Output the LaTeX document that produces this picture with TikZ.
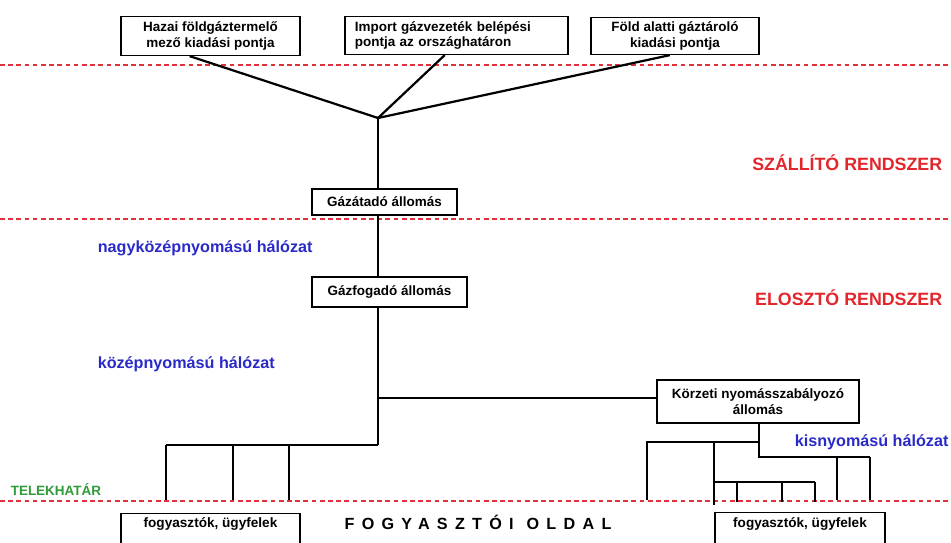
\documentclass[tikz,border=0pt]{standalone}
\usepackage{fontspec}
\setmainfont{Liberation Sans}
\newfontfamily\widefont[LetterSpace=45]{Liberation Sans}
\usetikzlibrary{positioning, calc}
\definecolor{cred}{HTML}{E3262B}
\definecolor{cblue}{HTML}{2A2AC8}
\definecolor{cgreen}{HTML}{2F9A3A}
\definecolor{cdash}{HTML}{E0303A}
\tikzset{
  every picture/.style={font=\bfseries, line width=1.5pt},
  box/.style={draw, fill=white, line width=1.1pt, align=center, inner sep=2pt, font=\bfseries\fontsize{11.5}{13.6}\selectfont},
  pipe/.style={draw, line width=1.9pt},
  limit/.style={draw=cdash, line width=0.9pt, dash pattern=on 4pt off 3pt},
  sysname/.style={text=cred, font=\bfseries\fontsize{15.2}{18}\selectfont, anchor=east},
  netname/.style={text=cblue, font=\bfseries\fontsize{13.8}{16}\selectfont, anchor=west},
}
\begin{document}
\begin{tikzpicture}[x=0.03cm, y=-0.03cm]
  \clip (0,0) rectangle (951,543);
  % hatarvonalak
  \foreach \y in {65,219,501} \draw[limit] (0,\y) -- (951,\y);
  % betaplalasi pontok
  \node[box, minimum width=5.37cm, minimum height=1.17cm] (hazai) at (210.5,36) {Hazai földgáztermelő\\mező kiadási pontja};
  \node[box, minimum width=6.69cm, minimum height=1.14cm, text width=6.1cm, align=left] (import) at (456.5,35.5) {Import gázvezeték belépési\\pontja az országhatáron};
  \node[box, minimum width=5.04cm, minimum height=1.11cm] (tarolo) at (675,36) {Föld alatti gáztároló\\kiadási pontja};
  \coordinate (jn) at (378,118);
  \draw[pipe] (hazai.-136) -- (jn);
  \draw[pipe] (import.-121) -- (jn);
  \draw[pipe] (tarolo.-105) -- (jn);
  % allomasok
  \node[box, minimum width=4.35cm, minimum height=0.78cm] (atado) at (384.5,202) {Gázátadó állomás};
  \node[box, minimum width=4.65cm, minimum height=0.9cm] (fogado) at (389.5,292) {Gázfogadó állomás};
  \node[box, minimum width=6.06cm, minimum height=1.29cm] (korzeti) at (758,401.5) {Körzeti nyomásszabályozó\\állomás};
  \draw[pipe] (jn) -- (jn |- atado.north);
  \draw[pipe] (atado.south -| jn) -- (fogado.north -| jn);
  \coordinate (bus) at (378,445);
  \draw[pipe] (fogado.south -| jn) -- (bus);
  \draw[pipe] (korzeti.west |- 0,398) -- (378,398);
  % fogyasztoi agak (bal)
  \draw[pipe] (bus) -- (166,445);
  \foreach \x in {166,233,289} \draw[pipe] (\x,445) -- (\x,500);
  % fogyasztoi agak (jobb)
  \draw[pipe] (korzeti.south -| 759,0) -- (759,457) -- (870,457);
  \draw[pipe] (647,500) -- (647,442) -- (759,442);
  \draw[pipe] (714,442) -- (714,505);
  \draw[pipe] (714,482) -- (815,482);
  \foreach \x in {737,782,815} \draw[pipe] (\x,482) -- (\x,502);
  \foreach \x in {837,870} \draw[pipe] (\x,457) -- (\x,500);
  % fogyasztok
  \node[box, minimum width=5.37cm, minimum height=1.5cm, anchor=north] (fogyL) at (210.5,513) {};
  \node[box, minimum width=5.1cm, minimum height=1.5cm, anchor=north] (fogyR) at (800,512) {};
  \node[font=\bfseries\fontsize{11.6}{13}\selectfont] at (fogyL.north |- 0,524) {fogyasztók, ügyfelek};
  \node[font=\bfseries\fontsize{11.6}{13}\selectfont] at (fogyR.north |- 0,524) {fogyasztók, ügyfelek};
  % feliratok
  \node[sysname] (szall) at (947,163) {SZÁLLÍTÓ RENDSZER};
  \node[sysname] (eloszt) at (947,298) {ELOSZTÓ RENDSZER};
  \node[netname] (nkp) at (93,248) {nagyközépnyomású hálózat};
  \node[netname] (kp) at (93,364) {középnyomású hálózat};
  \node[netname] (kis) at (790,442) {kisnyomású hálózat};
  \node[anchor=west, text=cgreen, font=\bfseries\fontsize{11.5}{13}\selectfont] (telek) at (6,490) {TELEKHATÁR};
  \node[font=\bfseries\fontsize{13.8}{16}\selectfont] (oldal) at (478,522) {\widefont FOGYASZTÓI\hspace{0.8em}OLDAL};
\end{tikzpicture}
\end{document}
